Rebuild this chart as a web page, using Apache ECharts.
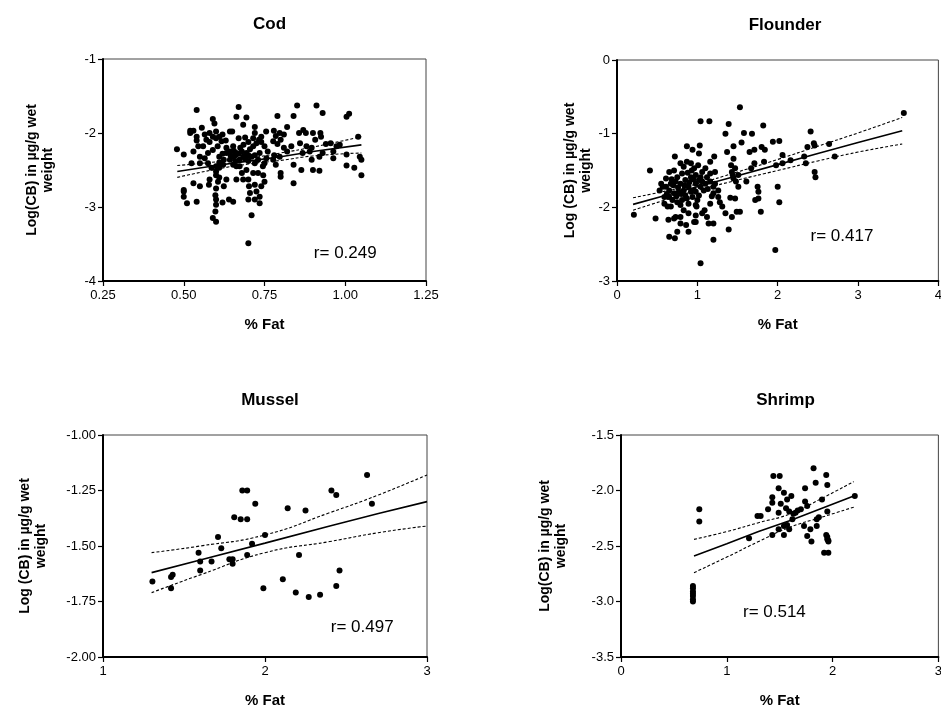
<!DOCTYPE html>
<html><head><meta charset="utf-8">
<script src="https://cdn.jsdelivr.net/npm/echarts@6/dist/echarts.min.js"></script>
<style>html,body{margin:0;padding:0;background:#fff;overflow:hidden}#c{width:945px;height:709px}</style>
</head><body><div id="c"></div><script>
const titles = ['Cod', 'Flounder', 'Mussel', 'Shrimp'];
const yNames = ['Log(CB) in µg/g wet\nweight', 'Log (CB) in µg/g wet\nweight', 'Log (CB) in µg/g wet\nweight', 'Log(CB) in µg/g wet\nweight'];
const xName = '% Fat';
const rLabels = ['r= 0.249', 'r= 0.417', 'r= 0.497', 'r= 0.514'];
const rPos = [[1.0, -3.62], [2.80, -2.40], [2.60, -1.865], [1.45, -3.10]];

const codXTicks = ['0.25', '0.50', '0.75', '1.00', '1.25'];
const codYTicks = ['-4', '-3', '-2', '-1'];
const flXTicks = ['0', '1', '2', '3', '4'];
const flYTicks = ['-3', '-2', '-1', '0'];
const muXTicks = ['1', '2', '3'];
const muYTicks = ['-2.00', '-1.75', '-1.50', '-1.25', '-1.00'];
const shXTicks = ['0', '1', '2', '3'];
const shYTicks = ['-3.5', '-3.0', '-2.5', '-2.0', '-1.5'];

const codPoints = [[0.479,-2.22],[0.54,-1.69],[0.67,-1.65],[0.694,-1.79],[0.663,-1.78],[0.851,-1.63],[0.911,-1.63],[0.93,-1.73],[0.79,-1.77],[0.84,-1.77],[1.004,-1.78],[1.012,-1.74],[0.59,-1.81],[0.684,-1.89],[0.72,-1.92],[0.52,-1.97],[0.53,-1.97],[0.54,-2.05],[0.565,-2.02],[0.57,-2.09],[0.58,-2.0],[0.59,-2.05],[0.60,-2.07],[0.61,-2.05],[0.65,-1.98],[0.67,-2.07],[0.69,-2.06],[0.715,-2.07],[0.733,-2.09],[0.779,-1.97],[0.797,-2.0],[0.82,-1.92],[0.777,-2.11],[0.80,-2.09],[0.857,-2.0],[0.878,-2.0],[0.9,-2.0],[0.923,-2.0],[0.925,-2.05],[0.907,-2.09],[0.955,-2.14],[0.973,-2.18],[0.983,-2.16],[1.04,-2.05],[0.963,-2.25],[1.004,-2.29],[1.045,-2.32],[1.05,-2.36],[1.05,-2.57],[1.028,-2.47],[1.004,-2.44],[0.963,-2.34],[0.92,-2.32],[0.896,-2.36],[0.9,-2.5],[0.92,-2.51],[0.868,-2.27],[0.864,-2.5],[0.84,-2.43],[0.84,-2.68],[0.82,-2.25],[0.797,-2.32],[0.80,-2.54],[0.80,-2.59],[0.777,-2.36],[0.756,-2.34],[0.75,-2.41],[0.746,-2.57],[0.75,-2.66],[0.74,-2.72],[0.735,-2.86],[0.735,-2.95],[0.72,-2.9],[0.70,-2.9],[0.71,-3.11],[0.70,-3.49],[0.725,-2.79],[0.72,-2.70],[0.702,-2.72],[0.70,-2.63],[0.694,-2.50],[0.68,-2.54],[0.663,-2.63],[0.663,-2.45],[0.653,-2.32],[0.643,-2.25],[0.632,-2.20],[0.624,-2.36],[0.61,-2.47],[0.60,-2.57],[0.606,-2.66],[0.60,-2.75],[0.598,-2.84],[0.60,-2.9],[0.60,-2.97],[0.598,-3.06],[0.59,-3.15],[0.60,-3.2],[0.62,-2.94],[0.64,-2.9],[0.653,-2.93],[0.624,-2.72],[0.632,-2.63],[0.58,-2.63],[0.578,-2.70],[0.55,-2.72],[0.54,-2.93],[0.51,-2.95],[0.50,-2.86],[0.50,-2.79],[0.50,-2.77],[0.53,-2.68],[0.55,-2.41],[0.53,-2.25],[0.524,-2.41],[0.50,-2.29],[0.565,-2.34],[0.575,-2.27],[0.59,-2.23],[0.56,-2.18],[0.55,-2.32],[0.575,-2.41],[0.586,-2.47],[0.61,-2.32],[0.653,-2.18],[0.663,-2.27],[0.673,-2.36],[0.684,-2.32],[0.694,-2.27],[0.71,-2.32],[0.715,-2.18],[0.725,-2.14],[0.735,-2.27],[0.632,-2.27],[0.643,-2.36],[0.622,-2.43],[0.653,-2.43],[0.673,-2.45],[0.72,-2.41],[0.715,-2.54],[0.73,-2.54],[0.684,-2.63],[0.705,-2.81],[0.605,-2.18],[0.617,-2.11],[0.643,-1.98],[0.545,-2.18],[0.52,-2.0],[0.54,-2.1],[0.595,-1.87],[0.556,-1.93],[0.86,-2.14],[0.833,-2.18],[0.81,-2.2],[0.88,-2.18],[0.896,-2.2],[0.66,-2.30],[0.67,-2.28],[0.68,-2.25],[0.69,-2.35],[0.70,-2.30],[0.70,-2.38],[0.675,-2.20],[0.705,-2.22],[0.66,-2.38],[0.645,-2.30],[0.62,-2.28],[0.61,-2.40],[0.60,-2.45],[0.60,-2.52],[0.61,-2.60],[0.745,-2.45],[0.76,-2.25],[0.78,-2.30],[0.785,-2.43],[0.75,-2.18],[0.74,-2.05],[0.58,-2.12],[0.60,-1.98],[0.62,-2.02],[0.63,-2.10],[0.655,-2.24],[0.685,-2.16],[0.70,-2.12],[0.72,-2.30],[0.73,-2.36],[0.72,-2.0],[0.74,-2.12],[0.755,-1.98],[0.785,-2.04],[0.81,-2.02],[0.79,-2.15],[0.87,-1.96],[0.89,-2.25],[0.93,-2.27],[0.94,-2.15]];
const codFitX = [0.48, 0.6, 0.7, 0.8, 0.9, 1.05];
const codFit = [-2.52, -2.44, -2.38, -2.32, -2.25, -2.16];
const codUpper = [-2.44, -2.39, -2.34, -2.27, -2.19, -2.05];
const codLower = [-2.60, -2.49, -2.42, -2.37, -2.31, -2.27];

const flPoints = [[0.21,-2.10],[0.41,-1.50],[0.48,-2.15],[0.64,-2.17],[0.65,-2.40],[0.72,-2.42],[0.75,-2.33],[0.79,-2.22],[0.89,-2.33],[0.87,-1.17],[0.72,-1.31],[0.94,-1.22],[1.04,-0.83],[1.15,-0.83],[1.03,-1.16],[1.02,-1.27],[1.16,-1.38],[1.21,-1.31],[1.22,-1.52],[1.04,-2.76],[1.2,-2.44],[1.39,-2.30],[1.53,-0.64],[1.39,-0.87],[1.35,-1.0],[1.58,-0.99],[1.68,-1.0],[1.82,-0.89],[1.55,-1.12],[1.45,-1.17],[1.37,-1.25],[1.45,-1.34],[1.65,-1.25],[1.71,-1.22],[1.80,-1.18],[1.84,-1.22],[1.94,-1.11],[2.02,-1.10],[2.06,-1.29],[2.06,-1.40],[1.98,-1.43],[1.71,-1.40],[1.83,-1.38],[1.67,-1.47],[1.61,-1.65],[1.75,-1.72],[1.76,-1.79],[1.72,-1.90],[1.76,-1.88],[1.79,-2.06],[2.0,-1.72],[2.02,-1.93],[1.97,-2.58],[1.53,-2.06],[1.49,-2.06],[1.43,-2.13],[1.35,-2.08],[1.47,-1.88],[1.41,-1.87],[1.51,-1.72],[1.45,-1.61],[1.43,-1.52],[1.47,-1.47],[1.51,-1.56],[1.42,-1.43],[2.41,-0.97],[2.45,-1.13],[2.46,-1.16],[2.37,-1.18],[2.64,-1.14],[2.71,-1.31],[2.46,-1.52],[2.47,-1.59],[2.33,-1.31],[2.35,-1.40],[2.16,-1.36],[3.57,-0.72],[1.28,-1.93],[1.26,-1.86],[1.31,-1.99],[1.2,-1.81],[1.16,-1.95],[1.12,-2.13],[1.14,-2.22],[1.2,-2.22],[1.09,-2.04],[1.06,-2.08],[0.98,-2.11],[0.98,-1.97],[0.99,-1.99],[0.98,-2.20],[0.89,-2.08],[0.89,-1.95],[0.83,-2.04],[0.79,-2.13],[0.73,-2.13],[0.67,-1.99],[0.63,-1.99],[0.59,-1.86],[0.53,-1.77],[0.55,-1.68],[0.61,-1.61],[0.65,-1.52],[0.71,-1.50],[0.75,-1.59],[0.81,-1.54],[0.79,-1.40],[0.83,-1.45],[0.87,-1.38],[0.92,-1.40],[0.96,-1.47],[1.01,-1.43],[1.06,-1.52],[1.1,-1.47],[1.12,-1.59],[1.16,-1.65],[1.2,-1.72],[1.22,-1.68],[1.26,-1.77],[1.1,-1.68],[1.02,-1.63],[0.98,-1.68],[0.96,-1.77],[0.89,-1.72],[0.83,-1.77],[0.77,-1.79],[0.71,-1.81],[0.65,-1.77],[0.61,-1.72],[0.67,-1.68],[0.73,-1.65],[0.79,-1.68],[0.85,-1.63],[0.92,-1.59],[0.98,-1.56],[1.04,-1.59],[1.08,-1.77],[1.02,-1.84],[0.94,-1.86],[0.87,-1.88],[0.81,-1.90],[0.75,-1.93],[0.69,-1.90],[0.65,-1.86],[0.59,-1.95],[0.79,-1.97],[0.85,-1.84],[0.92,-1.79],[0.98,-1.79],[1.04,-1.72],[1.16,-1.54],[0.71,-2.15],[0.86,-2.24],[0.96,-2.20],[0.70,-1.70],[0.76,-1.73],[0.84,-1.70],[0.90,-1.66],[0.95,-1.62],[0.88,-1.53],[0.93,-1.50],[0.74,-1.85],[0.80,-1.82],[1.00,-1.90],[1.06,-1.65],[1.13,-1.75],[1.18,-1.85],[0.62,-1.82],[0.68,-1.62],[0.57,-1.72],[1.44,-1.56],[1.48,-1.65]];
const flFitX = [0.2, 0.6, 1.0, 1.5, 2.0, 2.5, 3.0, 3.55];
const flFit = [-1.96, -1.84, -1.72, -1.57, -1.42, -1.27, -1.12, -0.96];
const flUpper = [-1.87, -1.78, -1.68, -1.52, -1.35, -1.17, -0.99, -0.78];
const flLower = [-2.04, -1.90, -1.77, -1.63, -1.50, -1.37, -1.25, -1.14];

const muPoints = [[1.305,-1.66],[1.42,-1.64],[1.43,-1.63],[1.42,-1.69],[1.59,-1.53],[1.60,-1.57],[1.60,-1.61],[1.67,-1.57],[1.71,-1.46],[1.73,-1.51],[1.78,-1.56],[1.80,-1.56],[1.80,-1.58],[1.81,-1.37],[1.85,-1.38],[1.89,-1.38],[1.86,-1.25],[1.89,-1.25],[1.94,-1.31],[1.92,-1.49],[1.89,-1.54],[2.00,-1.45],[1.99,-1.69],[2.11,-1.65],[2.14,-1.33],[2.19,-1.71],[2.21,-1.54],[2.25,-1.34],[2.27,-1.73],[2.34,-1.72],[2.41,-1.25],[2.44,-1.27],[2.46,-1.61],[2.44,-1.68],[2.63,-1.18],[2.66,-1.31]];
const muFitX = [1.3, 1.6, 2.0, 2.4, 2.7, 3.0];
const muFit = [-1.62, -1.563, -1.487, -1.41, -1.354, -1.30];
const muUpper = [-1.53, -1.50, -1.45, -1.35, -1.27, -1.18];
const muLower = [-1.71, -1.63, -1.53, -1.48, -1.44, -1.41];

const shPoints = [[0.68,-2.86],[0.68,-2.88],[0.68,-2.91],[0.68,-2.93],[0.68,-2.95],[0.68,-2.98],[0.68,-3.0],[0.74,-2.17],[0.74,-2.28],[1.21,-2.43],[1.29,-2.23],[1.32,-2.23],[1.39,-2.17],[1.43,-2.06],[1.43,-2.11],[1.44,-1.87],[1.50,-1.87],[1.49,-1.98],[1.54,-2.02],[1.51,-2.12],[1.49,-2.20],[1.56,-2.16],[1.57,-2.08],[1.61,-2.05],[1.59,-2.19],[1.43,-2.40],[1.49,-2.35],[1.54,-2.40],[1.57,-2.31],[1.59,-2.35],[1.54,-2.32],[1.62,-2.26],[1.67,-2.18],[1.70,-2.17],[1.74,-1.98],[1.74,-2.10],[1.76,-2.14],[1.73,-2.32],[1.76,-2.41],[1.80,-2.46],[1.79,-2.35],[1.82,-1.80],[1.84,-1.93],[1.85,-2.26],[1.85,-2.32],[1.87,-2.24],[1.90,-2.08],[1.94,-2.40],[1.95,-2.42],[1.95,-2.44],[1.96,-2.45],[1.96,-2.46],[1.92,-2.56],[1.96,-2.56],[1.94,-1.86],[1.95,-1.95],[1.95,-2.19],[2.21,-2.05],[1.65,-2.20],[1.63,-2.21]];
const shFitX = [0.69, 1.0, 1.3, 1.6, 1.9, 2.2];
const shFit = [-2.59, -2.48, -2.37, -2.27, -2.16, -2.05];
const shUpper = [-2.44, -2.37, -2.29, -2.21, -2.07, -1.92];
const shLower = [-2.74, -2.60, -2.46, -2.33, -2.24, -2.15];

const FONT = 'Liberation Sans, Arial, Helvetica, sans-serif';
const grids = [
  {left: 103, top: 59, width: 323, height: 222},
  {left: 617, top: 60, width: 326, height: 221},
  {left: 103, top: 435, width: 324, height: 222},
  {left: 621, top: 435, width: 319, height: 222}
];
const axisRanges = [
  {x: [0.25, 1.25, 0.25, codXTicks], y: [-4, -1, 1, codYTicks], yGap: 47},
  {x: [0, 4, 1, flXTicks], y: [-3, 0, 1, flYTicks], yGap: 13},
  {x: [1, 3, 1, muXTicks], y: [-2, -1, 0.25, muYTicks], yGap: 54},
  {x: [0, 3, 1, shXTicks], y: [-3.5, -1.5, 0.5, shYTicks], yGap: 52}
];
const panels = [
  [codPoints, codFitX, codFit, codUpper, codLower],
  [flPoints, flFitX, flFit, flUpper, flLower],
  [muPoints, muFitX, muFit, muUpper, muLower],
  [shPoints, shFitX, shFit, shUpper, shLower]
];

function pair(xs, ys) { return xs.map((x, i) => [x, ys[i]]); }

const option = {
  backgroundColor: '#fff',
  animation: false,
  textStyle: {fontFamily: FONT},
  title: titles.map((t, i) => ({
    text: t,
    left: grids[i].left + grids[i].width / 2,
    top: grids[i].top - 48,
    textAlign: 'center',
    textStyle: {fontSize: 17, fontWeight: 'bold', color: '#000', fontFamily: FONT}
  })),
  grid: grids.map(g => Object.assign({show: true, borderColor: '#444', borderWidth: 1, containLabel: false}, g)),
  xAxis: axisRanges.map((a, i) => ({
    type: 'value', gridIndex: i, min: a.x[0], max: a.x[1], interval: a.x[2],
    name: xName, nameLocation: 'middle', nameGap: 36,
    nameTextStyle: {fontSize: 15, fontWeight: 'bold', color: '#000', fontFamily: FONT},
    axisLine: {show: true, onZero: false, lineStyle: {color: '#000', width: 2}},
    axisTick: {show: true, inside: false, length: 5, lineStyle: {color: '#000', width: 1.2}},
    axisLabel: {color: '#000', fontSize: 13, margin: 8, fontFamily: FONT,
      formatter: (v, idx) => a.x[3][idx] !== undefined ? a.x[3][idx] : ''},
    splitLine: {show: false}
  })),
  yAxis: axisRanges.map((a, i) => ({
    type: 'value', gridIndex: i, min: a.y[0], max: a.y[1], interval: a.y[2],
    name: yNames[i], nameLocation: 'middle', nameGap: a.yGap, nameRotate: 90,
    nameTextStyle: {fontSize: 14, fontWeight: 'bold', color: '#000', lineHeight: 16, align: 'center', fontFamily: FONT},
    axisLine: {show: true, onZero: false, lineStyle: {color: '#000', width: 2}},
    axisTick: {show: true, inside: false, length: 5, lineStyle: {color: '#000', width: 1.2}},
    axisLabel: {color: '#000', fontSize: 13, margin: 7, fontFamily: FONT,
      formatter: (v, idx) => a.y[3][idx] !== undefined ? a.y[3][idx] : ''},
    splitLine: {show: false}
  })),
  series: []
};

panels.forEach((p, i) => {
  option.series.push({
    type: 'scatter', xAxisIndex: i, yAxisIndex: i, data: p[0],
    symbol: 'circle', symbolSize: 6, itemStyle: {color: '#000', opacity: 1}, z: 2
  });
  option.series.push({
    type: 'line', xAxisIndex: i, yAxisIndex: i, data: pair(p[1], p[2]),
    symbol: 'none', smooth: false, lineStyle: {color: '#000', width: 1.6}, z: 3
  });
  option.series.push({
    type: 'line', xAxisIndex: i, yAxisIndex: i, data: pair(p[1], p[3]),
    symbol: 'none', smooth: true, lineStyle: {color: '#000', width: 1.1, type: [3, 2]}, z: 3
  });
  option.series.push({
    type: 'line', xAxisIndex: i, yAxisIndex: i, data: pair(p[1], p[4]),
    symbol: 'none', smooth: true, lineStyle: {color: '#000', width: 1.1, type: [3, 2]}, z: 3
  });
  option.series.push({
    type: 'scatter', xAxisIndex: i, yAxisIndex: i, data: [rPos[i]],
    symbolSize: 1, itemStyle: {color: 'rgba(0,0,0,0)', opacity: 1}, silent: true,
    label: {show: true, position: 'inside', formatter: rLabels[i], color: '#000', opacity: 1, fontSize: 17, fontFamily: FONT}
  });
});

const chart = echarts.init(document.getElementById('c'), null, {renderer: 'canvas'});
chart.setOption(option);
</script></body></html>
